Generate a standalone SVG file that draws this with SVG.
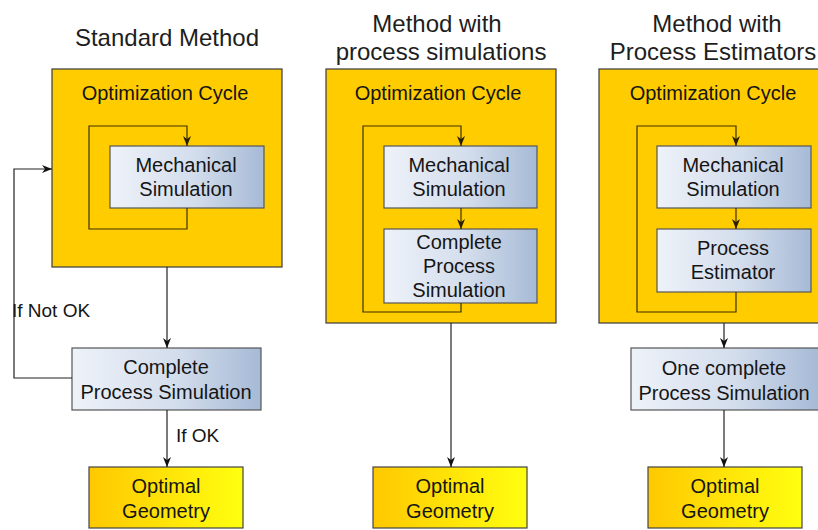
<svg xmlns="http://www.w3.org/2000/svg" width="818" height="530" viewBox="0 0 818 530">
<defs>
  <linearGradient id="blue" x1="0" y1="0" x2="1" y2="0">
    <stop offset="0" stop-color="#eef2f9"/>
    <stop offset="0.55" stop-color="#d3ddec"/>
    <stop offset="1" stop-color="#a6bad6"/>
  </linearGradient>
  <linearGradient id="gold" x1="0" y1="0" x2="1" y2="0">
    <stop offset="0" stop-color="#ffc800"/>
    <stop offset="1" stop-color="#ffff10"/>
  </linearGradient>
  <marker id="arr" markerUnits="userSpaceOnUse" markerWidth="12" markerHeight="10" refX="10" refY="4" orient="auto">
    <path d="M0,0 L10,4 L0,8 L3,4 z" fill="#111"/>
  </marker>
  <marker id="arrB" markerUnits="userSpaceOnUse" markerWidth="12" markerHeight="10" refX="10" refY="4" orient="auto">
    <path d="M0,0 L10,4 L0,8 L3,4 z" fill="#2a2000"/>
  </marker>
</defs>
<style>
  .cycle { fill: #ffcc00; stroke: #3a3a3a; stroke-width: 1.2; }
  .proc { fill: url(#blue); stroke: #555; stroke-width: 1.2; }
  .opt { fill: url(#gold); stroke: #444; stroke-width: 1.2; }
  text { font-family: "Liberation Sans", Arial, sans-serif; fill: #151515; }
  .t { font-size: 24px; text-anchor: middle; fill: #1e1e1e; }
  .b { font-size: 20px; text-anchor: middle; }
  .lbl { font-size: 19px; }
  .conn { fill: none; stroke: #222; stroke-width: 1.2; marker-end: url(#arr); }
  .loop { fill: none; stroke: #3d3000; stroke-width: 1.2; marker-end: url(#arrB); }
</style>

<!-- Titles -->
<text class="t" x="167" y="46">Standard Method</text>
<text class="t" x="437" y="32">Method with</text>
<text class="t" x="441" y="60">process simulations</text>
<text class="t" x="717" y="32">Method with</text>
<text class="t" x="713" y="60">Process Estimators</text>

<!-- Left panel -->
<g id="left-cycle">
  <rect class="cycle" x="52" y="69" width="230" height="198"/>
  <text class="b" x="165" y="100">Optimization Cycle</text>
</g>
<g id="left-mech">
  <rect class="proc" x="110" y="146" width="154" height="62"/>
  <text class="b" x="186" y="172">Mechanical</text>
  <text class="b" x="186" y="196">Simulation</text>
</g>
<g id="left-cps">
  <rect class="proc" x="72" y="348" width="189" height="62"/>
  <text class="b" x="166" y="374">Complete</text>
  <text class="b" x="166" y="399">Process Simulation</text>
</g>
<g id="left-opt">
  <rect class="opt" x="89" y="467" width="154" height="61"/>
  <text class="b" x="166" y="493">Optimal</text>
  <text class="b" x="166" y="518">Geometry</text>
</g>

<!-- Middle panel -->
<g id="mid-cycle">
  <rect class="cycle" x="326" y="69" width="230" height="254"/>
  <text class="b" x="438" y="100">Optimization Cycle</text>
</g>
<g id="mid-mech">
  <rect class="proc" x="384" y="146" width="153" height="62"/>
  <text class="b" x="459" y="172">Mechanical</text>
  <text class="b" x="459" y="196">Simulation</text>
</g>
<g id="mid-cps">
  <rect class="proc" x="384" y="229" width="153" height="74"/>
  <text class="b" x="459" y="249">Complete</text>
  <text class="b" x="459" y="273">Process</text>
  <text class="b" x="459" y="297">Simulation</text>
</g>
<g id="mid-opt">
  <rect class="opt" x="373" y="467" width="154" height="61"/>
  <text class="b" x="450" y="493">Optimal</text>
  <text class="b" x="450" y="518">Geometry</text>
</g>

<!-- Right panel -->
<g id="right-cycle">
  <rect class="cycle" x="599" y="69" width="230" height="254"/>
  <text class="b" x="713" y="100">Optimization Cycle</text>
</g>
<g id="right-mech">
  <rect class="proc" x="657" y="146" width="154" height="62"/>
  <text class="b" x="733" y="172">Mechanical</text>
  <text class="b" x="733" y="196">Simulation</text>
</g>
<g id="right-est">
  <rect class="proc" x="657" y="229" width="154" height="63"/>
  <text class="b" x="733" y="255">Process</text>
  <text class="b" x="733" y="279">Estimator</text>
</g>
<g id="right-cps">
  <rect class="proc" x="631" y="348" width="188" height="62"/>
  <text class="b" x="724" y="375">One complete</text>
  <text class="b" x="724" y="400">Process Simulation</text>
</g>
<g id="right-opt">
  <rect class="opt" x="648" y="467" width="154" height="61"/>
  <text class="b" x="725" y="493">Optimal</text>
  <text class="b" x="725" y="518">Geometry</text>
</g>

<!-- Connectors -->
<g id="connectors">
  <path class="loop" d="M187,208 V229 H89 V126 H187 V146"/>
  <path class="conn" d="M167,267 V348"/>
  <path class="conn" d="M72,378 H14 V169 H52"/>
  <path class="conn" d="M167,410 V467"/>

  <path class="loop" d="M461,303 V312 H363 V126 H461 V146"/>
  <path class="loop" d="M461,208 V229"/>
  <path class="conn" d="M451,323 V467"/>

  <path class="loop" d="M736,292 V312 H637 V126 H736 V146"/>
  <path class="loop" d="M736,208 V229"/>
  <path class="conn" d="M724,323 V348"/>
  <path class="conn" d="M724,410 V467"/>
</g>
<text class="lbl" x="12" y="317">If Not OK</text>
<text class="lbl" x="176" y="442">If OK</text>
</svg>
